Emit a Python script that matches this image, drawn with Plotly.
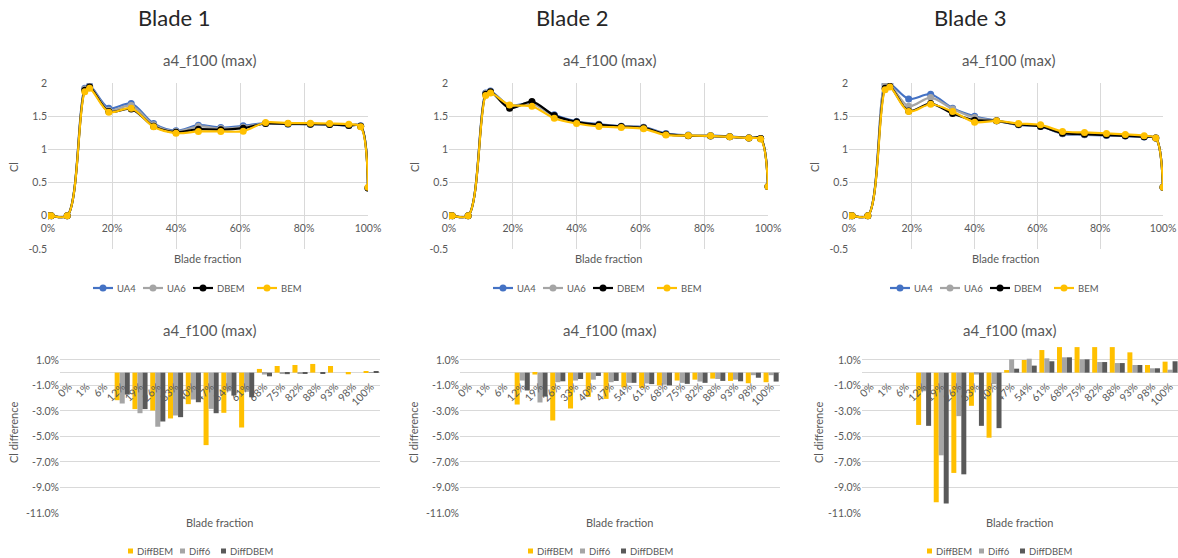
import plotly.graph_objects as go

# ---- data -------------------------------------------------------------
blade_names = ["Blade 1", "Blade 2", "Blade 3"]
panel_title = "a4_f100 (max)"

# spanwise positions of the Cl samples (% of blade length)
blade_fraction = [0, 1, 6, 11.5, 13, 19, 26, 33, 40, 47, 54, 61, 68, 75, 82, 88, 94, 97.7, 100]

b1_ua4 = [0, 0, 0, 1.92, 1.96, 1.62, 1.69, 1.39, 1.28, 1.365, 1.33, 1.355, 1.395, 1.38, 1.38, 1.375, 1.36, 1.355, 0.42]
b1_ua6 = [0, 0, 0, 1.91, 1.95, 1.59, 1.66, 1.37, 1.27, 1.345, 1.315, 1.335, 1.39, 1.385, 1.385, 1.38, 1.365, 1.35, 0.42]
b1_dbem = [0, 0, 0, 1.89, 1.94, 1.57, 1.61, 1.35, 1.26, 1.305, 1.295, 1.32, 1.39, 1.385, 1.38, 1.375, 1.36, 1.35, 0.42]
b1_bem = [0, 0, 0, 1.87, 1.92, 1.56, 1.62, 1.34, 1.245, 1.27, 1.27, 1.275, 1.405, 1.395, 1.395, 1.39, 1.38, 1.34, 0.43]

b2_ua4 = [0, 0, 0, 1.85, 1.88, 1.66, 1.70, 1.52, 1.42, 1.38, 1.35, 1.335, 1.24, 1.215, 1.21, 1.195, 1.175, 1.165, 0.44]
b2_ua6 = [0, 0, 0, 1.84, 1.87, 1.64, 1.69, 1.50, 1.41, 1.37, 1.345, 1.33, 1.23, 1.21, 1.205, 1.19, 1.17, 1.16, 0.44]
b2_dbem = [0, 0, 0, 1.83, 1.87, 1.62, 1.72, 1.51, 1.415, 1.37, 1.345, 1.325, 1.23, 1.205, 1.20, 1.19, 1.17, 1.165, 0.44]
b2_bem = [0, 0, 0, 1.81, 1.85, 1.67, 1.65, 1.47, 1.39, 1.345, 1.33, 1.31, 1.215, 1.21, 1.205, 1.19, 1.17, 1.155, 0.44]

b3_ua4 = [0, 0, 0, 1.98, 1.99, 1.76, 1.83, 1.62, 1.50, 1.43, 1.37, 1.35, 1.235, 1.22, 1.21, 1.20, 1.185, 1.17, 0.43]
b3_ua6 = [0, 0, 0, 1.96, 1.97, 1.65, 1.78, 1.61, 1.48, 1.43, 1.37, 1.355, 1.24, 1.225, 1.215, 1.205, 1.19, 1.17, 0.43]
b3_dbem = [0, 0, 0, 1.92, 1.95, 1.58, 1.69, 1.54, 1.44, 1.43, 1.375, 1.345, 1.245, 1.23, 1.215, 1.205, 1.19, 1.17, 0.43]
b3_bem = [0, 0, 0, 1.90, 1.94, 1.57, 1.68, 1.57, 1.41, 1.43, 1.39, 1.37, 1.27, 1.255, 1.24, 1.225, 1.205, 1.17, 0.43]

# categories of the difference bars
fraction_labels = ["0%", "1%", "6%", "12%", "19%", "26%", "33%", "40%", "47%",
                   "54%", "61%", "68%", "75%", "82%", "88%", "93%", "98%", "100%"]

# Cl differences in percent
b1_diff_bem = [0, 0, 0, -2.16, -2.86, -2.97, -3.59, -2.47, -5.68, -3.15, -4.3, 0.29, 0.52, 0.6, 0.68, 0.52, -0.13, 0.13]
b1_diff6 = [0, 0, 0, -2.42, -3.18, -4.24, -3.36, -2.11, -2.84, -1.46, -1.5, -0.15, -0.05, -0.03, 0.0, 0.0, 0.0, 0.03]
b1_diff_dbem = [0, 0, 0, -1.72, -2.86, -3.83, -3.49, -2.32, -3.18, -1.8, -1.93, -0.29, -0.12, -0.05, -0.05, 0.0, 0.0, 0.1]

b2_diff_bem = [0, 0, 0, -2.5, -0.15, -3.75, -2.81, -1.9, -2.06, -1.15, -1.2, -1.0, -0.62, -0.55, -0.47, -0.65, -0.83, -0.75]
b2_diff6 = [0, 0, 0, -0.62, -2.34, -0.75, -0.62, -0.55, -0.75, -0.8, -0.85, -0.95, -0.8, -0.7, -0.5, -0.55, -0.2, -0.2]
b2_diff_dbem = [0, 0, 0, -1.4, -1.88, -0.68, -0.5, -0.26, -0.65, -0.8, -0.9, -1.0, -0.88, -0.8, -0.65, -0.68, -0.4, -0.7]

b3_diff_bem = [0, 0, 0, -4.1, -10.16, -7.86, -2.6, -5.1, 0.2, 0.99, 1.77, 2.0, 2.0, 2.0, 2.0, 1.59, 0.6, 0.86]
b3_diff6 = [0, 0, 0, -1.46, -6.48, -3.41, -0.15, -0.9, 1.04, 1.09, 1.12, 1.2, 1.04, 0.83, 0.75, 0.6, 0.34, 0.23]
b3_diff_dbem = [0, 0, 0, -4.17, -10.26, -7.97, -4.17, -4.35, 0.31, 0.55, 0.89, 1.2, 1.04, 0.83, 0.75, 0.6, 0.34, 0.89]

cl_ticks = [-0.5, 0, 0.5, 1, 1.5, 2]
fraction_ticks = [0, 20, 40, 60, 80, 100]
diff_ticks = [-11, -9, -7, -5, -3, -1, 1]

# ---- styling ----------------------------------------------------------
W, H = 1178, 558
FONT = "Lato"
TXT = "#595959"
GRID = "#d9d9d9"
line_series = [("UA4", "#4472C4"), ("UA6", "#A5A5A5"), ("DBEM", "#000000"), ("BEM", "#FFC000")]
bar_series = [("DiffBEM", "#FFC000"), ("Diff6", "#A5A5A5"), ("DiffDBEM", "#595959")]

cl_data = [[b1_ua4, b1_ua6, b1_dbem, b1_bem],
           [b2_ua4, b2_ua6, b2_dbem, b2_bem],
           [b3_ua4, b3_ua6, b3_dbem, b3_bem]]
diff_data = [[b1_diff_bem, b1_diff6, b1_diff_dbem],
             [b2_diff_bem, b2_diff6, b2_diff_dbem],
             [b3_diff_bem, b3_diff6, b3_diff_dbem]]

# panel boxes in pixels
line_x_px = [(48, 368), (449, 768), (849, 1163)]
line_y_px = (83, 249)
bar_x_px = [(60, 380), (460, 780), (862, 1178)]
bar_y_px = (342, 513)
cl_range = [-0.5, 2]
diff_range = [-11, 2.4]
bar_x_range = [[-0.5, 17.5], [-0.5, 17.5], [-0.5, 17.45]]

# hand-placed legend keys: left edge of each key relative to the legend start (px)
line_key_offsets = [0, 50, 100, 164]
bar_key_offsets = [0, 52, 93]
line_legend_left = [93, 493, 890]
bar_legend_left = [128, 528, 927]
LEGEND_FONT = 9.5


def fx(px):
    return px / W


def fy(px):
    return 1 - px / H


fig = go.Figure()
annotations = []
shapes = []
layout = {}

for i in range(3):
    # ---- Cl along the blade ----
    xa = i + 1
    xname = "x" if xa == 1 else "x%d" % xa
    yname = "y" if xa == 1 else "y%d" % xa
    for (name, color), values in zip(line_series, cl_data[i]):
        fig.add_trace(go.Scatter(
            x=blade_fraction, y=values, name=name, mode="lines+markers",
            line=dict(color=color, width=2.2, shape="spline", smoothing=0.9),
            marker=dict(color=color, size=7),
            xaxis=xname, yaxis=yname, showlegend=False))
    ydom = [fy(line_y_px[1]), fy(line_y_px[0])]
    zero_pos = ydom[0] + (0 - cl_range[0]) / (cl_range[1] - cl_range[0]) * (ydom[1] - ydom[0])
    layout["xaxis" if xa == 1 else "xaxis%d" % xa] = dict(
        domain=[fx(line_x_px[i][0]), fx(line_x_px[i][1])], range=[0, 100],
        anchor="free", position=zero_pos, automargin=False,
        tickvals=fraction_ticks, ticktext=["%d%%" % t for t in fraction_ticks],
        showgrid=True, gridcolor=GRID, gridwidth=1, zeroline=False, showline=False,
        ticks="", ticklabelstandoff=5, tickfont=dict(family=FONT, size=10.5, color=TXT))
    layout["yaxis" if xa == 1 else "yaxis%d" % xa] = dict(
        domain=ydom, range=cl_range, anchor=xname, automargin=False,
        tickvals=cl_ticks, ticktext=["%g" % t for t in cl_ticks],
        showgrid=True, gridcolor=GRID, zeroline=False, showline=False, ticks="",
        tickfont=dict(family=FONT, size=10.5, color=TXT))
    cx = (line_x_px[i][0] + line_x_px[i][1]) / 2
    annotations += [
        dict(text=panel_title, x=fx(209 + i * 400 - (1 if i == 2 else 0)), y=fy(60),
             font=dict(family=FONT, size=15, color=TXT)),
        dict(text="Blade fraction", x=fx(cx), y=fy(258),
             font=dict(family=FONT, size=11, color=TXT)),
        dict(text="Cl", x=fx(line_x_px[i][0] - 35), y=fy(167), textangle=-90,
             font=dict(family=FONT, size=11, color=TXT)),
        dict(text=blade_names[i], x=fx(174 + i * 398), y=fy(17),
             font=dict(family=FONT, size=22, color="#262626")),
    ]
    # legend keys for the line series
    ly = fy(288)
    for (name, color), off in zip(line_series, line_key_offsets):
        x0 = line_legend_left[i] + off
        shapes.append(dict(type="line", xref="paper", yref="paper",
                           x0=fx(x0), x1=fx(x0 + 20), y0=ly, y1=ly,
                           line=dict(color=color, width=2.2)))
        shapes.append(dict(type="circle", xref="paper", yref="paper",
                           x0=fx(x0 + 6.5), x1=fx(x0 + 13.5), y0=fy(291.5), y1=fy(284.5),
                           fillcolor=color, line=dict(color=color, width=0)))
        annotations.append(dict(text=name, x=fx(x0 + 22), y=ly, xanchor="left",
                                font=dict(family=FONT, size=LEGEND_FONT, color=TXT)))

    # ---- Cl differences ----
    xb = i + 4
    xname = "x%d" % xb
    yname = "y%d" % xb
    for (name, color), values in zip(bar_series, diff_data[i]):
        fig.add_trace(go.Bar(
            x=fraction_labels, y=values, name=name, marker=dict(color=color, line=dict(width=0)),
            xaxis=xname, yaxis=yname, showlegend=False))
    ydom = [fy(bar_y_px[1]), fy(bar_y_px[0])]
    zero_pos = ydom[0] + (0 - diff_range[0]) / (diff_range[1] - diff_range[0]) * (ydom[1] - ydom[0])
    layout["xaxis%d" % xb] = dict(
        domain=[fx(bar_x_px[i][0]), fx(bar_x_px[i][1])], range=bar_x_range[i],
        anchor="free", position=zero_pos, type="category", automargin=False,
        tickangle=-45, showgrid=False, zeroline=False, showline=False, ticks="",
        ticklabelstandoff=5, tickfont=dict(family=FONT, size=10.5, color=TXT))
    layout["yaxis%d" % xb] = dict(
        domain=ydom, range=diff_range, anchor=xname, automargin=False,
        tickvals=diff_ticks, ticktext=["%.1f%%" % t for t in diff_ticks],
        showgrid=True, gridcolor=GRID, zeroline=True, zerolinecolor=GRID, zerolinewidth=1,
        showline=False, ticks="", tickfont=dict(family=FONT, size=10.5, color=TXT))
    annotations += [
        dict(text=panel_title, x=fx(209 + i * 400), y=fy(330),
             font=dict(family=FONT, size=15, color=TXT)),
        dict(text="Blade fraction", x=fx(220 + i * 400), y=fy(522),
             font=dict(family=FONT, size=11, color=TXT)),
        dict(text="Cl difference", x=fx(13 + i * 400 + (5 if i == 2 else 0)), y=fy(433), textangle=-90,
             font=dict(family=FONT, size=11, color=TXT)),
    ]
    # legend keys for the bar series
    by = fy(551)
    for (name, color), off in zip(bar_series, bar_key_offsets):
        x0 = bar_legend_left[i] + off
        shapes.append(dict(type="rect", xref="paper", yref="paper",
                           x0=fx(x0), x1=fx(x0 + 5), y0=fy(553.5), y1=fy(548.5),
                           fillcolor=color, line=dict(width=0)))
        annotations.append(dict(text=name, x=fx(x0 + 7), y=by, xanchor="left",
                                font=dict(family=FONT, size=LEGEND_FONT, color=TXT)))

for a in annotations:
    a.setdefault("xanchor", "center")
    a.update(xref="paper", yref="paper", showarrow=False, yanchor="middle")

fig.update_layout(
    width=W, height=H, margin=dict(l=0, r=0, t=0, b=0, autoexpand=False),
    paper_bgcolor="white", plot_bgcolor="white", showlegend=False,
    barmode="group", bargap=0.15, bargroupgap=0,
    annotations=annotations, shapes=shapes, **layout)

fig.write_html("out.html")
